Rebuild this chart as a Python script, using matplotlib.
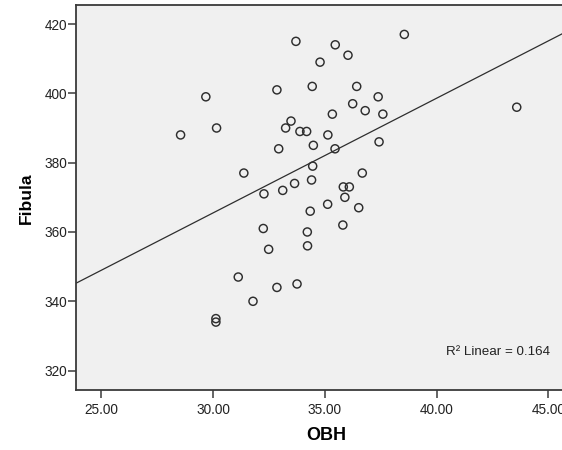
import matplotlib
matplotlib.use('Agg')

import matplotlib.pyplot as plt
import numpy as np


obh = [33.71, 29.68, 32.86, 28.55, 30.16, 33.49, 33.25, 33.89, 34.19, 32.94,
       31.38, 32.28, 33.12, 33.65, 35.47, 38.56, 36.04, 34.79, 34.44, 36.43,
       37.39, 36.25, 36.81, 37.60, 35.34, 35.14, 34.49, 35.46, 37.43, 34.46,
       36.68, 34.41, 35.83, 36.10, 35.90, 43.59, 35.13, 36.52, 34.35, 32.25,
       34.22, 32.49, 34.23, 31.13, 31.79, 32.86, 33.76, 30.13, 30.13, 35.81]
fibula = [415, 399, 401, 388, 390, 392, 390, 389, 389, 384,
          377, 371, 372, 374, 414, 417, 411, 409, 402, 402,
          399, 397, 395, 394, 394, 388, 385, 384, 386, 379,
          377, 375, 373, 373, 370, 396, 368, 367, 366, 361,
          360, 355, 356, 347, 340, 344, 345, 335, 334, 362]

x_ticks = [25, 30, 35, 40, 45]
y_ticks = [320, 340, 360, 380, 400, 420]
r2_label = "R\u00b2 Linear = 0.164"

XLIM = (23.87, 46.5)
YLIM = (314.4, 425.4)

FONT = ['Liberation Sans', 'DejaVu Sans']
DARK = '#2e2e2e'


def main():
    plt.rcParams['font.family'] = FONT

    fig = plt.figure(figsize=(5.62, 4.5), dpi=100)
    # right edge sits past the figure, the reference is cropped there
    ax = fig.add_axes([0.1352, 0.1333, 0.9, 0.8549])
    ax.set_facecolor('#F0F0F0')
    ax.set_xlim(*XLIM)
    ax.set_ylim(*YLIM)

    x = np.array(obh)
    y = np.array(fibula, dtype=float)
    ax.scatter(x, y, s=34, facecolors='none', edgecolors=DARK,
               linewidths=1.05, zorder=3)

    # least squares fit line across the whole axis
    slope, icept = np.polyfit(x, y, 1)
    xs = np.array(XLIM)
    ax.plot(xs, slope * xs + icept, color=DARK, lw=0.9, zorder=2)

    ax.text(0.835, 0.0996, r2_label, transform=ax.transAxes, fontsize=9.6,
            color='#222222', ha='center', va='center')

    for side in ('top', 'right', 'left', 'bottom'):
        ax.spines[side].set_color('#3a3a3a')
        ax.spines[side].set_linewidth(1.3)

    ax.set_xticks(x_ticks)
    ax.set_xticklabels([f"{t:.2f}" for t in x_ticks])
    ax.set_yticks(y_ticks)
    ax.tick_params(axis='both', direction='out', length=5.5, width=1.1,
                   color='#3a3a3a', labelsize=9.8, labelcolor='#222222')
    ax.tick_params(axis='x', pad=3.5)
    ax.tick_params(axis='y', pad=0.8)

    ax.set_xlabel("OBH", fontsize=13, fontweight='bold')
    ax.xaxis.set_label_coords(0.494, -0.095)
    ax.set_ylabel("Fibula", fontsize=12.5, fontweight='bold')
    ax.yaxis.set_label_coords(-0.084, 0.499)

    fig.savefig('out.png', dpi=100)


if __name__ == "__main__":
    main()
